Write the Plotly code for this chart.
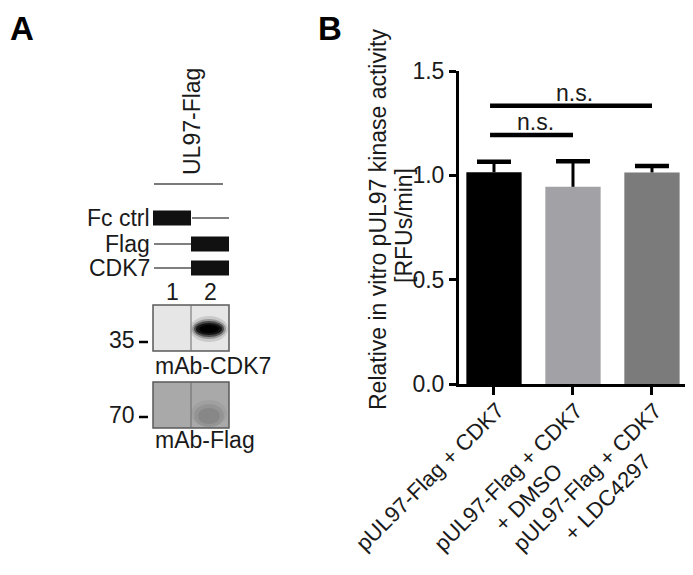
import plotly.graph_objects as go

# ---- panel B: kinase assay ----
conditions = ["pUL97-Flag + CDK7",
              "pUL97-Flag + CDK7<br>+ DMSO",
              "pUL97-Flag + CDK7<br>+ LDC4297"]
activity = [1.015, 0.945, 1.014]
activity_sd = [0.050, 0.123, 0.031]
bar_colors = ["#000000", "#a2a2a6", "#7b7b7b"]
y_ticks = [0.0, 0.5, 1.0, 1.5]
sig_pairs = [(0, 1), (0, 2)]
sig_labels = ["n.s.", "n.s."]
sig_heights = [1.193, 1.333]

# ---- panel A: schematic + blots ----
lanes = ["1", "2"]
header = "UL97-Flag"
constructs = ["Fc ctrl", "Flag", "CDK7"]
present = [[1, 0], [0, 1], [0, 1]]
blot_antibodies = ["mAb-CDK7", "mAb-Flag"]
blot_markers = ["35", "70"]
band_signal = [[0.0, 1.0], [0.0, 0.35]]

FONT = "Liberation Sans, Arial, sans-serif"
TXT = "#1a1a1a"
# page body has an 8px margin, so the figure is 8px smaller and offset
OFF = 8
W, H = 693 - OFF, 575 - OFF


def px(x):
    return (x - OFF) / W


def py(y):
    return 1 - (y - OFF) / H


def note(x, y, text, size=23, xa="center", ya="middle", angle=0, color=TXT):
    return dict(x=px(x), y=py(y), xref="paper", yref="paper", text=text,
                showarrow=False, xanchor=xa, yanchor=ya, textangle=angle,
                font=dict(size=size, color=color))


fig = go.Figure()
xs = list(range(len(conditions)))
fig.add_trace(go.Bar(x=xs, y=activity, width=0.7,
                     marker=dict(color=bar_colors, line=dict(width=0))))

# error bars (upper only), stems and caps
cap = 0.215
sx, sy, cx, cy = [], [], [], []
for i, (m, s) in enumerate(zip(activity, activity_sd)):
    sx += [i, i, None]
    sy += [m, m + s, None]
    cx += [i - cap, i + cap, None]
    cy += [m + s, m + s, None]
fig.add_trace(go.Scatter(x=sx, y=sy, mode="lines", line=dict(color="black", width=3)))
fig.add_trace(go.Scatter(x=cx, y=cy, mode="lines", line=dict(color="black", width=4.5)))

shapes = []
annotations = []

# significance bars
for (a, b), lab, h in zip(sig_pairs, sig_labels, sig_heights):
    shapes.append(dict(type="line", xref="x", yref="y", x0=a - 0.05, x1=b, y0=h, y1=h,
                       line=dict(color="black", width=4.5)))
    annotations.append(dict(x=(a + b) / 2 + 0.02, y=h, xref="x", yref="y", text=lab,
                            showarrow=False, xanchor="center", yanchor="bottom", yshift=-2,
                            font=dict(size=23, color=TXT)))

# rotated category labels
for i, lab in enumerate(conditions):
    two = "<br>" in lab
    annotations.append(dict(x=i, y=0, xref="x", yref="y", text=lab, showarrow=False,
                            textangle=-45, align="center",
                            xanchor="center", yanchor="middle",
                            xshift=-54 if two else -64, yshift=-103 if two else -92,
                            font=dict(size=22, color=TXT)))

# y title (two lines)
annotations.append(note(378, 220, "Relative in vitro pUL97 kinase activity", angle=-90))
annotations.append(note(404, 226, "[RFUs/min]", angle=-90))

# panel letters
annotations.append(note(22, 29, "<b>A</b>", size=33, color="black"))
annotations.append(note(330, 29, "<b>B</b>", size=33, color="black"))

# ---- panel A drawing ----
lane_x0, lane_w = 153, 38
annotations.append(note(192, 122, header, angle=-90))
shapes.append(dict(type="line", xref="paper", yref="paper", x0=px(154), x1=px(223),
                   y0=py(184), y1=py(184), line=dict(color="#7a7a7a", width=2)))

row_y = [218, 244, 268]
for r, name in enumerate(constructs):
    yc = row_y[r]
    annotations.append(note(152, yc, name, xa="right"))
    for l in range(len(lanes)):
        xa = lane_x0 + l * lane_w
        xb = xa + lane_w
        if present[r][l]:
            shapes.append(dict(type="rect", xref="paper", yref="paper",
                               x0=px(xa), x1=px(xb), y0=py(yc - 7.5), y1=py(yc + 7.5),
                               fillcolor="#111111", line=dict(width=0)))
        else:
            shapes.append(dict(type="line", xref="paper", yref="paper",
                               x0=px(xa + 1), x1=px(xb), y0=py(yc), y1=py(yc),
                               line=dict(color="black", width=1.2)))

for l, lab in enumerate(lanes):
    annotations.append(note(lane_x0 + (l + 0.5) * lane_w, 292, lab))

blot_top = [305, 382]
blot_h = 46
blot_fill = ["#e6e6e6", "#a9a9a9"]
marker_y = [342, 417]
ab_y = [366, 440]
for b in range(len(blot_antibodies)):
    t = blot_top[b]
    shapes.append(dict(type="rect", xref="paper", yref="paper",
                       x0=px(lane_x0), x1=px(lane_x0 + 2 * lane_w), y0=py(t), y1=py(t + blot_h),
                       fillcolor=blot_fill[b], line=dict(color="#5a5a5a", width=1.5)))
    for l in range(len(lanes)):
        s = band_signal[b][l]
        if s <= 0:
            continue
        xc = lane_x0 + (l + 0.5) * lane_w - 1
        if b == 0:
            yc = t + 24
            layers = [(19, 13, 0.12), (17, 10, 0.25), (15, 8, 0.5),
                      (13, 6, 0.75), (10, 4, 0.95)]
        else:
            yc = t + 34
            layers = [(18, 16, 0.15), (15, 12, 0.2), (11, 8, 0.25)]
        for hw, hh, op in layers:
            shapes.append(dict(type="circle", xref="paper", yref="paper",
                               x0=px(xc - hw), x1=px(xc + hw),
                               y0=py(max(yc - hh, t + 1)),
                               y1=py(min(yc + hh, t + blot_h - 1)),
                               fillcolor="black", opacity=op * s, line=dict(width=0)))
    shapes.append(dict(type="line", xref="paper", yref="paper",
                       x0=px(lane_x0 + lane_w), x1=px(lane_x0 + lane_w),
                       y0=py(t), y1=py(t + blot_h), line=dict(color="#6a6a6a", width=1)))
    shapes.append(dict(type="line", xref="paper", yref="paper", x0=px(139), x1=px(148),
                       y0=py(marker_y[b]), y1=py(marker_y[b]),
                       line=dict(color="black", width=2.5)))
    annotations.append(note(137, marker_y[b] - 2, blot_markers[b], xa="right"))
    annotations.append(note(153, ab_y[b], blot_antibodies[b], xa="left"))

fig.update_layout(
    width=W, height=H,
    margin=dict(l=0, r=0, t=0, b=0, autoexpand=False),
    paper_bgcolor="white", plot_bgcolor="white",
    showlegend=False,
    font=dict(family=FONT, color=TXT),
    shapes=shapes, annotations=annotations,
    xaxis=dict(domain=[px(459), px(691)], range=[-0.443, 2.494],
               tickvals=xs, showticklabels=False, ticks="outside", ticklen=8,
               tickwidth=2.5, tickcolor="black", showline=True, linewidth=3,
               linecolor="black", showgrid=False, zeroline=False, fixedrange=True,
               automargin=False),
    yaxis=dict(domain=[py(384), py(71)], range=[0, 1.5],
               tickvals=y_ticks, ticktext=["%.1f" % v for v in y_ticks],
               ticks="outside", ticklen=7, tickwidth=2.5, tickcolor="black",
               tickfont=dict(size=23, color=TXT),
               showline=True, linewidth=3, linecolor="black",
               showgrid=False, zeroline=False, fixedrange=True, automargin=False),
)

fig.write_html("out.html")
